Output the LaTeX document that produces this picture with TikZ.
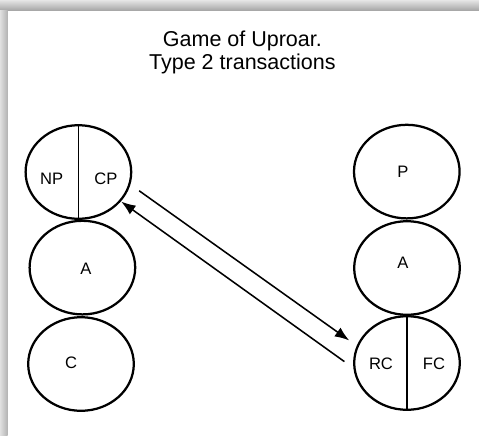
\documentclass[tikz,border=0pt]{standalone}
\usepackage{fontspec}
\setmainfont{Liberation Sans}
\usetikzlibrary{shapes.geometric,arrows.meta}

\begin{document}
\begin{tikzpicture}[
    state/.style={draw, ellipse, line width=1.6pt, minimum width=2.64cm, minimum height=2.34cm, inner sep=0pt},
    role/.style={font=\fontsize{11.8}{14}\selectfont, inner sep=0pt},
    heading/.style={font=\fontsize{15.3}{17}\selectfont, anchor=base, inner sep=0pt},
    split/.style={line width=1.2pt},
    move/.style={->, line width=1.1pt},
    >={Latex[length=0.36cm,width=0.27cm]}
  ]
  \useasboundingbox (0,0) rectangle (11.975,-10.875);
  \fill [white] (0,0) rectangle (11.975,-10.875);
  \shade [top color=black!10, bottom color=black!36] (0,0) rectangle (11.975,-0.27);
  \shade [left color=black!12, right color=black!30] (0,-0.27) rectangle (0.19,-10.875);

  \node [heading] (title-top) at (6.06,-1.15) {Game of Uproar.};
  \node [heading] (title-bot) at (6.06,-1.733) {Type 2 transactions};

  \node [state] (parent-l) at (1.96,-4.30) {};
  \node [state] (adult-l) at (2.06,-6.69) {};
  \node [state] (child-l) at (2.025,-9.10) {};
  \node [state] (parent-r) at (10.17,-4.29) {};
  \node [state] (adult-r) at (10.175,-6.70) {};
  \node [state] (child-r) at (10.175,-9.075) {};

  \draw [split] (parent-l.north) -- (parent-l.south);
  \draw [split] (child-r.north) -- (child-r.south);

  \node [role] (np-l) at (1.29,-4.475) {NP};
  \node [role] (cp-l) at (2.65,-4.475) {CP};
  \node [role] (a-l) at (2.15,-6.725) {A};
  \node [role] (c-l) at (1.775,-9.075) {C};
  \node [role] (p-r) at (10.075,-4.30) {P};
  \node [role] (a-r) at (10.075,-6.575) {A};
  \node [role] (rc-r) at (9.525,-9.10) {RC};
  \node [role] (fc-r) at (10.85,-9.10) {FC};

  \coordinate (cp-out) at (3.48,-4.77);
  \coordinate (rc-in) at (8.73,-8.51);
  \coordinate (rc-out) at (8.61,-9.04);
  \coordinate (cp-in) at (3.03,-5.04);
  \draw [move] (cp-out) to (rc-in);
  \draw [move] (rc-out) to (cp-in);
\end{tikzpicture}
\end{document}
